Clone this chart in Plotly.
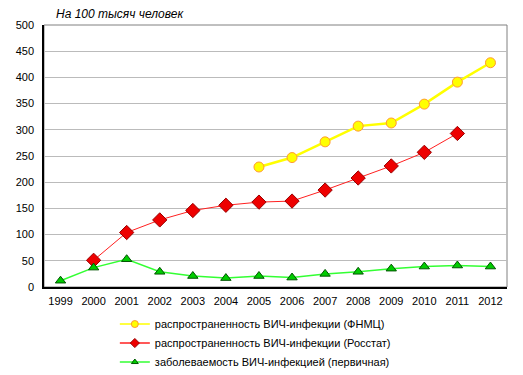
import plotly.graph_objects as go

years = ["1999", "2000", "2001", "2002", "2003", "2004", "2005", "2006",
         "2007", "2008", "2009", "2010", "2011", "2012"]
fnmc = [None, None, None, None, None, None, 229, 247, 277, 307, 313, 349, 391, 428]
rosstat = [None, 51, 104, 128, 146, 156, 162, 164, 185, 208, 231, 257, 293, None]
primary = [12, 37, 53, 29, 21, 17, 21, 18, 25, 29, 35, 39, 41, 39]
y_ticks = [0, 50, 100, 150, 200, 250, 300, 350, 400, 450, 500]

names = ["распространенность ВИЧ-инфекции (ФНМЦ)",
         "распространенность ВИЧ-инфекции (Росстат)",
         "заболеваемость ВИЧ-инфекцией (первичная)"]

styles = [
    dict(line=dict(color="#FFFF00", width=2.5), symbol="circle", mcolor="#FFFF00",
         mline="#FF9933", size=10, lsize=7),
    dict(line=dict(color="#FF2020", width=1), symbol="diamond", mcolor="#EE0000",
         mline="#990000", size=11, lsize=7),
    dict(line=dict(color="#33FF33", width=1.5), symbol="triangle-up", mcolor="#00CC00",
         mline="#005500", size=9, lsize=6),
]
series = [fnmc, rosstat, primary]

fig = go.Figure()
for vals, st in zip(series, styles):
    fig.add_trace(go.Scatter(
        x=years, y=vals, mode="lines+markers", showlegend=False,
        line=st["line"],
        marker=dict(symbol=st["symbol"], size=st["size"], color=st["mcolor"],
                    line=dict(color=st["mline"], width=1))))
for name, st in zip(names, styles):
    fig.add_trace(go.Scatter(
        x=[None], y=[None], name=name, mode="lines+markers",
        line=dict(color=st["line"]["color"], width=1.5),
        marker=dict(symbol=st["symbol"], size=st["lsize"], color=st["mcolor"],
                    line=dict(color=st["mline"], width=1))))

# page body has an 8px margin; figure is sized to fit the 523x375 window
fig.update_layout(
    width=515, height=367,
    margin=dict(l=36, r=16, t=17, b=88, autoexpand=False),
    paper_bgcolor="white", plot_bgcolor="white",
    font=dict(family="Liberation Sans, Arial, sans-serif", size=11, color="black"),
    showlegend=True,
    legend=dict(x=0.153, y=-0.086, xanchor="left", yanchor="top",
                font=dict(size=11), tracegroupgap=0, itemwidth=30,
                bgcolor="rgba(0,0,0,0)"),
    annotations=[dict(text="<i>На 100 тысяч человек</i>", xref="paper", yref="paper",
                      x=0.022, y=1.0, xanchor="left", yanchor="bottom", yshift=2,
                      showarrow=False, font=dict(size=12))],
)
fig.update_xaxes(type="category", range=[-0.5, 13.5], showgrid=False,
                 showline=True, linecolor="black", linewidth=1.5,
                 ticks="", tickfont=dict(size=11), mirror=False,
                 ticklabelstandoff=3)
fig.update_yaxes(range=[0, 500], tickvals=y_ticks, showgrid=True,
                 gridcolor="#BBBBBB", gridwidth=1,
                 showline=True, linecolor="black", linewidth=1.5,
                 ticks="", tickfont=dict(size=11), zeroline=False,
                 ticklabelstandoff=6)
fig.add_shape(type="rect", xref="paper", yref="paper", x0=0, y0=0, x1=1, y1=1,
              line=dict(color="#808080", width=1), layer="below")

fig.write_html("out.html")
